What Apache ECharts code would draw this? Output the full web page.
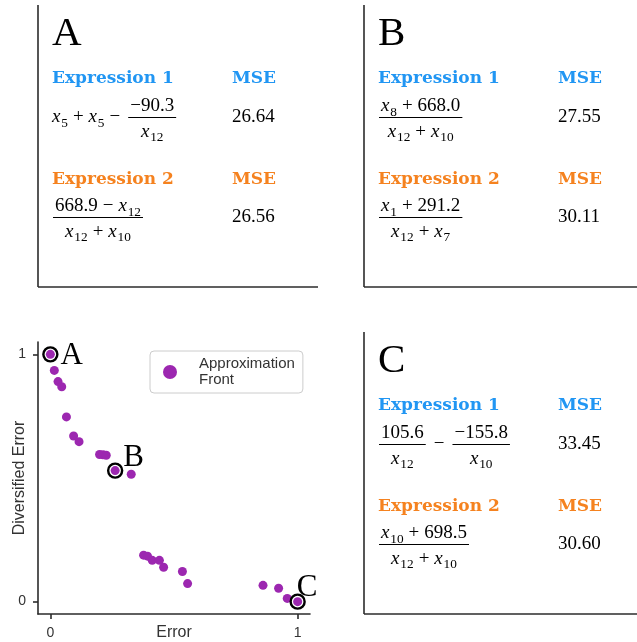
<!DOCTYPE html>
<html><head><meta charset="utf-8">
<script src="https://cdn.jsdelivr.net/npm/echarts@6/dist/echarts.min.js"></script>
<style>html,body{margin:0;padding:0;background:#fff}#c{width:637px;height:642px}</style>
</head><body><div id="c"></div>
<script>
// ---------------- data ----------------
const errorX = [0, 0.016, 0.031, 0.046, 0.065, 0.094, 0.116, 0.199, 0.213, 0.226, 0.262, 0.327,
  0.377, 0.393, 0.412, 0.441, 0.458, 0.534, 0.555, 0.860, 0.923, 0.958, 1];
const diversifiedY = [1, 0.935, 0.890, 0.869, 0.747, 0.670, 0.647, 0.595, 0.594, 0.592, 0.530, 0.515,
  0.188, 0.184, 0.167, 0.167, 0.139, 0.122, 0.073, 0.066, 0.054, 0.013, 0];
const highlightIndex = [0, 10, 22];
const highlightLabels = ['A', 'B', 'C'];
const axisTicks = [0, 1];
const seriesName = 'Approximation Front';
const panelLetters = ['A', 'B', 'C'];
const expr1 = [
  ['x5', '+', 'x5', '-', {num: ['-90.3'], den: ['x12']}],
  [{num: ['x8', '+', '668.0'], den: ['x12', '+', 'x10']}],
  [{num: ['105.6'], den: ['x12']}, '-', {num: ['-155.8'], den: ['x10']}]
];
const expr2 = [
  [{num: ['668.9', '-', 'x12'], den: ['x12', '+', 'x10']}],
  [{num: ['x1', '+', '291.2'], den: ['x12', '+', 'x7']}],
  [{num: ['x10', '+', '698.5'], den: ['x12', '+', 'x10']}]
];
const mse1 = ['26.64', '27.55', '33.45'];
const mse2 = ['26.56', '30.11', '30.60'];

// ---------------- layout helpers ----------------
const SERIF = '"Liberation Serif","Times New Roman",serif';
const HEADF = '"DejaVu Serif",serif';
const SANS = '"Liberation Sans",Arial,sans-serif';
const BLUE = '#2196F3', ORANGE = '#F5821F', PURPLE = '#9C27B0';
const ctx = document.createElement('canvas').getContext('2d');
function F(size, style, weight, family) { return {size: size, style: style || 'normal', weight: weight || 'normal', family: family || SERIF}; }
function cssF(f) { return f.style + ' ' + f.weight + ' ' + f.size + 'px ' + f.family; }
function textW(t, f) { ctx.font = cssF(f); return ctx.measureText(t).width; }
function baseOff(f) {
  ctx.font = cssF(f);
  ctx.textBaseline = 'alphabetic';
  const a1 = ctx.measureText('H').actualBoundingBoxAscent;
  ctx.textBaseline = 'middle';
  const a2 = ctx.measureText('H').actualBoundingBoxAscent;
  ctx.textBaseline = 'alphabetic';
  return a1 - a2;
}
const els = [];
function txt(t, x, b, f, fill) {
  els.push({type: 'text', x: x, y: b - baseOff(f), silent: true, z: 10,
    style: {text: t, fontSize: f.size, fontFamily: f.family, fontStyle: f.style, fontWeight: f.weight,
      fill: fill || '#000', align: 'left', verticalAlign: 'middle'}});
}
function line(x1, y1, x2, y2, w, c) {
  els.push({type: 'line', silent: true, z: 10, shape: {x1: x1, y1: y1, x2: x2, y2: y2},
    style: {stroke: c || '#000', lineWidth: w}});
}
const MS = 19, SS = 13.3, OPS = 5, FPAD = 2, FGAP = 3, SUBDY = 4.5, AXIS = 4.5, NUMUP = 6.5, DENDN = 19;
function mRow(tokens) {
  const parts = []; let w = 0;
  tokens.forEach((tk, i) => {
    if (typeof tk === 'object') {
      const fr = mFrac(tk);
      w += (i === 0 ? 1 : FGAP);
      parts.push({x: w, put: fr.put});
      w += fr.w + FGAP;
    } else if (tk === '+' || tk === '-') {
      const s = tk === '-' ? '\u2212' : '+';
      const f = F(MS);
      w += OPS;
      const x0 = w;
      parts.push({x: x0, put: (x, b) => txt(s, x, b, f)});
      w += textW(s, f) + OPS;
    } else {
      const m = /^x(\d+)$/.exec(tk);
      if (m) {
        const fi = F(MS, 'italic'), fs = F(SS);
        const xw = textW('x', fi);
        parts.push({x: w, put: (x, b) => { txt('x', x, b, fi); txt(m[1], x + xw + 0.8, b + SUBDY, fs); }});
        w += xw + 0.8 + textW(m[1], fs);
      } else {
        const s = tk.replace(/^-/, '\u2212');
        const f = F(MS);
        parts.push({x: w, put: (x, b) => txt(s, x, b, f)});
        w += textW(s, f);
      }
    }
  });
  return {w: w, put: (x, b) => parts.forEach(p => p.put(x + p.x, b))};
}
function mFrac(fr) {
  const n = mRow(fr.num), d = mRow(fr.den);
  const bw = Math.max(n.w, d.w) + 2 * FPAD;
  return {w: bw, put: (x, b) => {
    const ay = b - AXIS;
    line(x, ay, x + bw, ay, 1.2);
    n.put(x + (bw - n.w) / 2, ay - NUMUP);
    d.put(x + (bw - d.w) / 2, ay + DENDN);
  }};
}

const panels = [{L: 38, T: 5, R: 318, B: 287}, {L: 364, T: 5, R: 637, B: 287}, {L: 364, T: 332, R: 637, B: 614}];
const HF = F(17, 'normal', 'bold', HEADF);
panels.forEach((p, k) => {
  line(p.L, p.T, p.L, p.B, 1.6, '#2b2b2b');
  line(p.L, p.B, p.R, p.B, 1.6, '#2b2b2b');
  txt(panelLetters[k], p.L + 14, p.T + 40, F(41));
  txt('Expression 1', p.L + 14, p.T + 78, HF, BLUE);
  txt('MSE', p.L + 194, p.T + 78, HF, BLUE);
  mRow(expr1[k]).put(p.L + 14, p.T + 117);
  txt(mse1[k], p.L + 194, p.T + 117, F(MS));
  txt('Expression 2', p.L + 14, p.T + 179, HF, ORANGE);
  txt('MSE', p.L + 194, p.T + 179, HF, ORANGE);
  mRow(expr2[k]).put(p.L + 14, p.T + 217);
  txt(mse2[k], p.L + 194, p.T + 217, F(MS));
});

// ---------------- chart ----------------
const chart = echarts.init(document.getElementById('c'), null, {renderer: 'canvas'});
const axisCol = '#2b2b2b';
const labelOffsets = [[0, 1], [-2, -13], [-11, -14]];
const option = {
  animation: false,
  backgroundColor: '#fff',
  grid: {left: 38, top: 342, width: 272, height: 272, containLabel: false, outerBoundsMode: 'none'},
  legend: {
    left: 150, top: 351, orient: 'vertical', icon: 'circle', itemWidth: 14, itemHeight: 14,
    data: [seriesName],
    formatter: n => n.replace(' ', '\n'),
    textStyle: {fontSize: 15, lineHeight: 16, color: '#333', fontFamily: SANS, padding: [0, 0, 0, 17]},
    borderColor: '#cccccc', borderWidth: 1, borderRadius: 4, padding: [5, 8, 5, 13], backgroundColor: '#fff'
  },
  xAxis: {
    type: 'value', min: -0.05, max: 1.05,
    name: 'Error', nameLocation: 'middle', nameGap: 11, nameMoveOverlap: false,
    nameTextStyle: {fontSize: 16, color: '#333', fontFamily: SANS},
    axisLine: {onZero: false, lineStyle: {color: axisCol, width: 1.6}},
    axisTick: {customValues: axisTicks, length: 5, lineStyle: {color: axisCol, width: 1.6}},
    axisLabel: {customValues: axisTicks, fontSize: 14, color: '#333', margin: 12, fontFamily: SANS},
    splitLine: {show: false}
  },
  yAxis: {
    type: 'value', min: -0.05, max: 1.05,
    name: 'Diversified Error', nameLocation: 'middle', nameGap: 10, nameMoveOverlap: false,
    nameTextStyle: {fontSize: 16, color: '#333', fontFamily: SANS},
    axisLine: {onZero: false, lineStyle: {color: axisCol, width: 1.6}},
    axisTick: {customValues: axisTicks, length: 5, lineStyle: {color: axisCol, width: 1.6}},
    axisLabel: {customValues: axisTicks, fontSize: 14, color: '#333', margin: 12, fontFamily: SANS},
    splitLine: {show: false}
  },
  series: [
    {
      name: seriesName, type: 'scatter', symbol: 'circle', symbolSize: 9,
      itemStyle: {color: PURPLE, opacity: 1},
      emphasis: {disabled: true},
      data: errorX.map((x, i) => [x, diversifiedY[i]])
    },
    {
      name: 'highlight', type: 'scatter', symbol: 'circle', symbolSize: 14, z: 5,
      itemStyle: {color: 'rgba(0,0,0,0)', borderColor: '#000', borderWidth: 2.4, opacity: 1},
      emphasis: {disabled: true},
      data: highlightIndex.map((idx, k) => ({
        value: [errorX[idx], diversifiedY[idx]],
        label: {show: true, position: 'right', distance: 2, offset: labelOffsets[k],
          formatter: highlightLabels[k], fontSize: 31, color: '#000', fontFamily: SERIF}
      }))
    }
  ],
  graphic: els
};
chart.setOption(option);
</script>
</body></html>
